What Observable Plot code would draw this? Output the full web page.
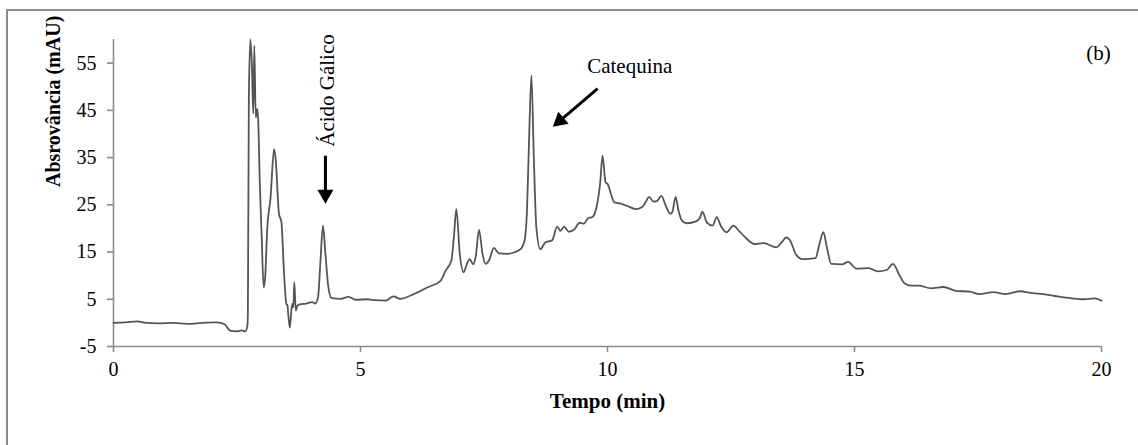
<!DOCTYPE html>
<html>
<head>
<meta charset="utf-8">
<script src="https://cdn.jsdelivr.net/npm/d3@7"></script>
<script src="https://cdn.jsdelivr.net/npm/@observablehq/plot@0.6"></script>
<style>
  html, body { margin: 0; padding: 0; background: #fff; }
  #wrap { position: relative; width: 1138px; height: 445px; overflow: hidden; }
  #frame { position: absolute; left: 6px; top: 9px; width: 1200px; height: 500px; border: 2px solid #8c8c8c; box-sizing: border-box; }
  #chart { position: absolute; left: 0; top: 0; }
</style>
</head>
<body>
<div id="wrap"><div id="frame"></div><div id="chart"></div></div>
<script>
// Retention time (min)
const tempo = [0.00,0.25,0.48,0.65,0.90,1.20,1.50,1.80,2.10,2.25,2.37,2.50,2.60,2.67,2.71,2.72,2.74,2.77,2.80,2.83,2.85,2.88,2.91,2.93,2.96,3.00,3.04,3.07,3.11,3.18,3.25,3.28,3.35,3.40,3.45,3.50,3.52,3.54,3.57,3.60,3.62,3.64,3.66,3.69,3.72,3.77,3.90,4.02,4.08,4.14,4.19,4.24,4.29,4.35,4.41,4.59,4.76,4.90,5.14,5.30,5.51,5.67,5.80,6.08,6.35,6.62,6.72,6.84,6.89,6.94,7.01,7.09,7.14,7.21,7.28,7.33,7.40,7.47,7.53,7.60,7.70,7.80,7.97,8.10,8.24,8.32,8.37,8.41,8.46,8.51,8.56,8.64,8.74,8.88,8.98,9.05,9.12,9.22,9.32,9.44,9.52,9.61,9.69,9.78,9.85,9.90,9.96,10.01,10.07,10.14,10.25,10.39,10.57,10.71,10.77,10.84,10.93,11.00,11.09,11.18,11.27,11.31,11.38,11.43,11.51,11.61,11.79,11.87,11.92,12.01,12.13,12.21,12.30,12.41,12.55,12.66,12.77,12.98,13.16,13.42,13.52,13.62,13.70,13.81,13.95,14.21,14.29,14.37,14.44,14.53,14.75,14.87,15.04,15.29,15.47,15.65,15.78,15.90,16.01,16.15,16.30,16.55,16.80,17.05,17.34,17.52,17.81,18.06,18.35,18.60,18.82,19.11,19.40,19.65,19.86,20.00];
// Absorbance (mAU)
const absorvancia = [0.0,0.1,0.3,0.0,-0.1,0.0,-0.2,0.0,0.1,-0.3,-1.7,-1.8,-1.6,-1.8,-0.6,1.9,47.8,60.0,54.9,44.3,58.7,43.5,45.3,42.8,30.1,18.1,7.5,9.6,19.5,26.6,36.8,35.0,23.1,21.3,11.0,4.0,3.8,1.5,-1.0,2.6,4.0,3.3,8.6,2.6,3.6,3.9,4.1,4.4,4.1,5.4,13.2,20.6,14.6,7.5,5.3,5.1,5.5,4.9,5.0,4.8,4.7,5.6,5.1,6.1,7.5,8.9,11.0,13.2,18.1,24.1,14.6,10.7,12.1,13.5,12.4,13.9,19.7,14.6,12.5,13.2,15.9,14.7,14.6,14.9,15.6,17.4,23.8,37.9,52.4,34.4,20.2,15.6,17.0,17.5,20.4,19.5,20.4,19.3,19.7,21.2,21.0,22.2,22.4,24.6,29.4,35.4,29.8,29.3,27.3,25.5,25.3,24.8,24.1,24.6,25.5,26.7,25.7,25.8,26.9,24.8,23.1,23.4,26.7,24.1,21.6,21.1,21.5,22.2,23.55,21.3,20.6,22.4,20.4,19.2,20.6,19.5,18.3,16.7,16.9,16.0,17.0,18.1,17.4,14.6,13.5,13.7,16.7,19.2,16.0,12.5,12.4,12.9,11.5,11.6,10.9,11.2,12.5,10.3,8.4,7.9,7.9,7.3,7.6,6.8,6.6,6.1,6.5,6.1,6.7,6.3,6.1,5.6,5.2,5.0,5.2,4.7];

const xTicks = [0, 5, 10, 15, 20];
const yTicks = [-5, 5, 15, 25, 35, 45, 55];
const xLabel = "Tempo (min)";
const yLabel = "Absrovância (mAU)";

// Annotations (data coordinates)
const annotLabels = ["Ácido Gálico", "Catequina", "(b)"];
const annotX = [4.33, 10.45, 19.94];
const annotY = [49.2, 54.4, 57.0];
const annotRotate = [-90, 0, 0];
const arrowX1 = [4.29, 9.80];
const arrowY1 = [35.4, 49.6];
const arrowX2 = [4.29, 8.97];
const arrowY2 = [26.3, 42.2];

const series = tempo.map((t, i) => ({t, v: absorvancia[i]}));
const annots = annotLabels.map((s, i) => ({s, x: annotX[i], y: annotY[i], r: annotRotate[i]}));
const arrows = arrowX1.map((x1, i) => ({x1, y1: arrowY1[i], x2: arrowX2[i], y2: arrowY2[i]}));

const FONT = "Liberation Serif, Times New Roman, serif";
const axisColor = "#8a8a8a";

const chart = Plot.plot({
  width: 1138,
  height: 445,
  marginLeft: 113,
  marginRight: 37,
  marginTop: 39,
  marginBottom: 99,
  style: {fontFamily: FONT, fontSize: "20px", color: "black", background: "transparent", overflow: "visible"},
  x: {domain: [0, 20]},
  y: {domain: [-5, 60]},
  marks: [
    Plot.ruleX([0], {stroke: axisColor, strokeWidth: 1.6}),
    Plot.ruleY([-5], {stroke: axisColor, strokeWidth: 1.6}),
    Plot.axisX({ticks: xTicks, tickSize: 6, tickPadding: 9, stroke: axisColor, strokeWidth: 1.6, fill: "black", label: null, fontSize: 20, tickFormat: d => String(d)}),
    Plot.axisY({ticks: yTicks, tickSize: 6, tickPadding: 11, stroke: axisColor, strokeWidth: 1.6, fill: "black", label: null, fontSize: 20, tickFormat: d => String(d)}),
    Plot.line(series, {x: "t", y: "v", stroke: "#555555", strokeWidth: 1.8, curve: "monotone-x"}),
    Plot.text([xLabel], {text: d => d, frameAnchor: "bottom", dy: 61, fontWeight: "bold", fontSize: 21, fill: "black"}),
    Plot.text([yLabel], {text: d => d, frameAnchor: "left", dx: -60, dy: -6, rotate: -90, fontWeight: "bold", fontSize: 20, fill: "black"}),
    Plot.text(annots, {x: "x", y: "y", text: "s", rotate: "r", fontSize: 21, fill: "black"}),
    Plot.link(arrows, {x1: "x1", y1: "y1", x2: "x2", y2: "y2", stroke: "black", strokeWidth: 3, className: "annarrow"})
  ]
});

document.getElementById("chart").appendChild(chart);

// filled arrowheads
const svg = d3.select(chart);
const defs = svg.append("defs");
defs.append("marker")
  .attr("id", "filled-head")
  .attr("markerUnits", "userSpaceOnUse")
  .attr("markerWidth", 16)
  .attr("markerHeight", 16)
  .attr("viewBox", "0 0 14 16")
  .attr("refX", 9)
  .attr("refY", 8)
  .attr("orient", "auto")
  .append("path")
  .attr("d", "M0,0 L14,8 L0,16 Z")
  .attr("fill", "black");
svg.selectAll(".annarrow path").attr("marker-end", "url(#filled-head)");
</script>
</body>
</html>
